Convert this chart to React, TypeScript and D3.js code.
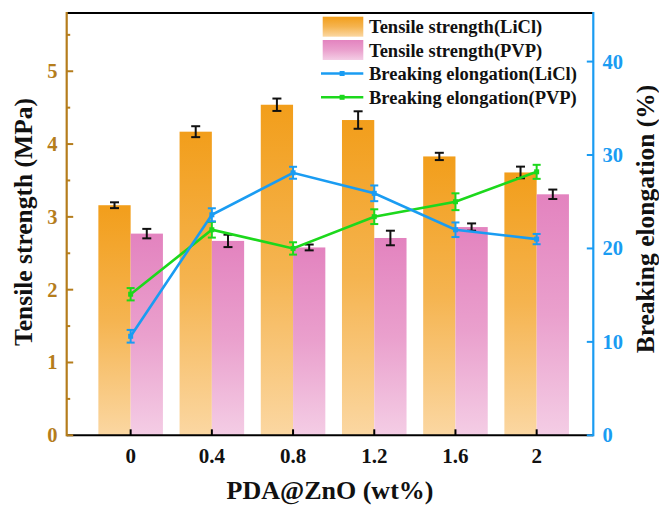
import React from "react";
import * as d3 from "d3";

const categories = [0, 0.4, 0.8, 1.2, 1.6, 2];
const tickLabels = ["0", "0.4", "0.8", "1.2", "1.6", "2"];
const tensileLiCl = [3.16, 4.17, 4.54, 4.33, 3.83, 3.61];
const tensileLiClErr = [0.04, 0.075, 0.085, 0.12, 0.05, 0.08];
const tensilePVP = [2.77, 2.67, 2.58, 2.71, 2.86, 3.31];
const tensilePVPErr = [0.065, 0.085, 0.04, 0.1, 0.05, 0.065];
const elongLiCl = [10.6, 23.6, 28.1, 25.9, 22.0, 21.0];
const elongLiClErr = [0.68, 0.7, 0.64, 0.84, 0.78, 0.55];
const elongPVP = [15.1, 22.0, 20.0, 23.4, 25.0, 28.2];
const elongPVPErr = [0.66, 0.84, 0.66, 0.79, 0.9, 0.75];
const leftTicks = [0, 1, 2, 3, 4, 5];
const leftMinor = [0.5, 1.5, 2.5, 3.5, 4.5, 5.5];
const rightTicks = [0, 10, 20, 30, 40];
const legendLabels = [
  "Tensile strength(LiCl)",
  "Tensile strength(PVP)",
  "Breaking elongation(LiCl)",
  "Breaking elongation(PVP)",
];

const W = 659, H = 506;
const L = 66.7, R = 593.3, T = 13, B = 435.3;
const FONT = "'Liberation Serif', 'Times New Roman', serif";
const BROWN = "#B57D1C";
const BLUE = "#1A9CF2";
const GREEN = "#1CD81C";

export default function App() {
  const x = d3.scaleLinear().domain([-0.315, 2.279]).range([L, R]);
  const yL = d3.scaleLinear().domain([0, 5.8]).range([B, T]);
  const yR = d3.scaleLinear().domain([0, 45.2]).range([B, T]);
  const bw = x(0.159) - x(0);

  const lineGen = (vals: number[]) =>
    d3.line<number>().x((_, i) => x(categories[i])).y((v) => yR(v))(vals) || "";

  const errBar = (cx: number, y0: number, y1: number, color: string, key: string, cap = 4.5) => (
    <g key={key} stroke={color} strokeWidth={2} fill="none">
      <line x1={cx} x2={cx} y1={y0} y2={y1} />
      <line x1={cx - cap} x2={cx + cap} y1={y0} y2={y0} />
      <line x1={cx - cap} x2={cx + cap} y1={y1} y2={y1} />
    </g>
  );

  const legendY = [26.7, 50, 73.5, 97.3];

  return (
    <svg width={W} height={H} style={{ position: "absolute", left: 0, top: 0, background: "#fff" }}>
      <defs>
        <linearGradient id="gOrange" x1="0" y1="0" x2="0" y2="1">
          <stop offset="0" stopColor="#F29E1B" />
          <stop offset="0.5" stopColor="#F5B450" />
          <stop offset="1" stopColor="#FBD7A2" />
        </linearGradient>
        <linearGradient id="gPink" x1="0" y1="0" x2="0" y2="1">
          <stop offset="0" stopColor="#E383BF" />
          <stop offset="0.5" stopColor="#EAA0CD" />
          <stop offset="1" stopColor="#F4CDE5" />
        </linearGradient>
      </defs>

      {/* bars */}
      {categories.map((c, i) => (
        <g key={"b" + i}>
          <rect x={x(c) - bw} y={yL(tensileLiCl[i])} width={bw} height={B - yL(tensileLiCl[i])} fill="url(#gOrange)" />
          <rect x={x(c)} y={yL(tensilePVP[i])} width={bw} height={B - yL(tensilePVP[i])} fill="url(#gPink)" />
        </g>
      ))}
      {categories.map((c, i) =>
        errBar(x(c) - bw / 2, yL(tensileLiCl[i] + tensileLiClErr[i]), yL(tensileLiCl[i] - tensileLiClErr[i]), "#111", "el" + i)
      )}
      {categories.map((c, i) =>
        errBar(x(c) + bw / 2, yL(tensilePVP[i] + tensilePVPErr[i]), yL(tensilePVP[i] - tensilePVPErr[i]), "#111", "ep" + i)
      )}

      {/* lines */}
      <path d={lineGen(elongPVP)} fill="none" stroke={GREEN} strokeWidth={2.6} />
      <path d={lineGen(elongLiCl)} fill="none" stroke={BLUE} strokeWidth={2.6} />
      {categories.map((c, i) =>
        errBar(x(c), yR(elongPVP[i] + elongPVPErr[i]), yR(elongPVP[i] - elongPVPErr[i]), GREEN, "gp" + i, 4)
      )}
      {categories.map((c, i) =>
        errBar(x(c), yR(elongLiCl[i] + elongLiClErr[i]), yR(elongLiCl[i] - elongLiClErr[i]), BLUE, "bl" + i, 4)
      )}
      {categories.map((c, i) => (
        <rect key={"mg" + i} x={x(c) - 2.5} y={yR(elongPVP[i]) - 2.5} width={5} height={5} fill={GREEN} />
      ))}
      {categories.map((c, i) => (
        <rect key={"mb" + i} x={x(c) - 2.5} y={yR(elongLiCl[i]) - 2.5} width={5} height={5} fill={BLUE} />
      ))}

      {/* frame top & bottom */}
      <line x1={L} x2={R} y1={T} y2={T} stroke="#000" strokeWidth={2} />
      <line x1={L} x2={R} y1={B} y2={B} stroke="#000" strokeWidth={2} />
      {categories.map((c, i) => (
        <line key={"xt" + i} x1={x(c)} x2={x(c)} y1={B} y2={B - 6} stroke="#000" strokeWidth={2} />
      ))}
      {categories.map((c, i) => (
        <text key={"xl" + i} x={x(c)} y={463} textAnchor="middle" fontFamily={FONT} fontWeight="bold" fontSize={21} fill="#111">
          {tickLabels[i]}
        </text>
      ))}
      <text x={330} y={499} textAnchor="middle" fontFamily={FONT} fontWeight="bold" fontSize={26} fill="#111">
        PDA@ZnO (wt%)
      </text>

      {/* left axis */}
      <line x1={L} x2={L} y1={T - 1} y2={B + 1} stroke={BROWN} strokeWidth={2.2} />
      {leftTicks.map((t) => (
        <g key={"lt" + t}>
          <line x1={L} x2={L + 6.5} y1={yL(t)} y2={yL(t)} stroke={BROWN} strokeWidth={2} />
          <text x={57.5} y={yL(t) + 7} textAnchor="end" fontFamily={FONT} fontWeight="bold" fontSize={20.5} fill={BROWN}>
            {t}
          </text>
        </g>
      ))}
      {leftMinor.map((t) => (
        <line key={"lm" + t} x1={L} x2={L + 3.5} y1={yL(t)} y2={yL(t)} stroke={BROWN} strokeWidth={2} />
      ))}
      <text
        transform={`translate(32, 222) rotate(-90)`}
        textAnchor="middle"
        fontFamily={FONT}
        fontWeight="bold"
        fontSize={25.5}
        fill="#111"
      >
        Tensile strength (MPa)
      </text>

      {/* right axis */}
      <line x1={R} x2={R} y1={T - 1} y2={B + 1} stroke={BLUE} strokeWidth={2.2} />
      {rightTicks.map((t) => (
        <g key={"rt" + t}>
          <line x1={R} x2={R - 6.5} y1={yR(t)} y2={yR(t)} stroke={BLUE} strokeWidth={2} />
          <text x={602.5} y={yR(t) + 7} textAnchor="start" fontFamily={FONT} fontWeight="bold" fontSize={20.5} fill={BLUE}>
            {t}
          </text>
        </g>
      ))}
      <text
        transform={`translate(654, 219) rotate(-90)`}
        textAnchor="middle"
        fontFamily={FONT}
        fontWeight="bold"
        fontSize={25.5}
        fill="#111"
      >
        Breaking elongation (%)
      </text>

      {/* legend */}
      <rect x={322.7} y={legendY[0] - 10} width={40.6} height={20} fill="url(#gOrange)" />
      <rect x={322.7} y={legendY[1] - 10} width={40.6} height={20} fill="url(#gPink)" />
      <line x1={321} x2={363.3} y1={legendY[2]} y2={legendY[2]} stroke={BLUE} strokeWidth={2.6} />
      <rect x={339.6} y={legendY[2] - 2.5} width={5} height={5} fill={BLUE} />
      <line x1={321} x2={363.3} y1={legendY[3]} y2={legendY[3]} stroke={GREEN} strokeWidth={2.6} />
      <rect x={339.6} y={legendY[3] - 2.5} width={5} height={5} fill={GREEN} />
      {legendLabels.map((s, i) => (
        <text key={"lg" + i} x={369} y={legendY[i] + 6.5} fontFamily={FONT} fontWeight="bold" fontSize={18.5} fill="#111">
          {s}
        </text>
      ))}
    </svg>
  );
}
